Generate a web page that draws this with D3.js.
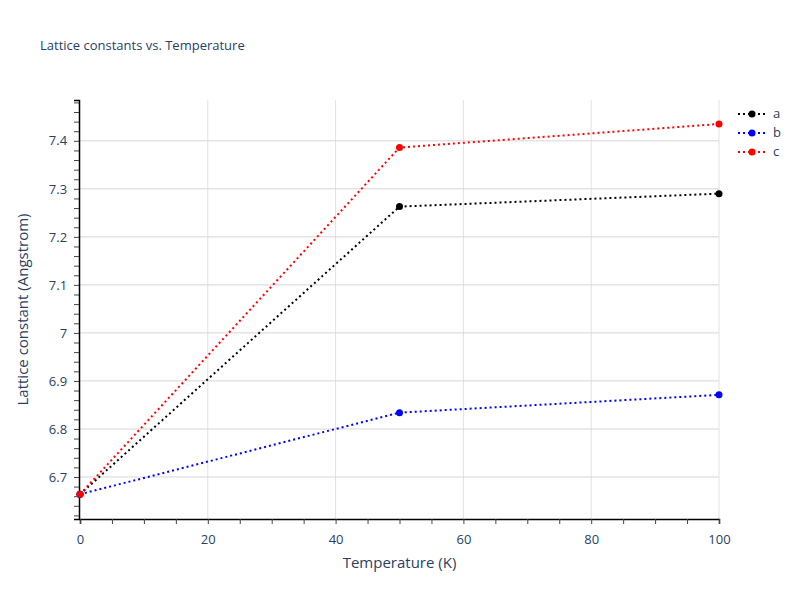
<!DOCTYPE html>
<html><head><meta charset="utf-8">
<script src="https://cdn.jsdelivr.net/npm/d3@7"></script>
<style>body{margin:0;background:#fff}text{font-family:"Open Sans",sans-serif}</style>
</head><body><svg id="c" width="800" height="600"></svg>
<script>
const temps=[0,50,100];
const seriesNames=["a","b","c"];
const aVals=[6.664,7.263,7.290];
const bVals=[6.664,6.834,6.871];
const cVals=[6.664,7.386,7.435];
const colors=["#000000","#0000ff","#ff0000"];
const xTicks=[0,20,40,60,80,100];
const yTicks=[6.7,6.8,6.9,7.0,7.1,7.2,7.3,7.4];
const yTickLabels=["6.7","6.8","6.9","7","7.1","7.2","7.3","7.4"];

const svg=d3.select("#c");
const L=80,R=719,T=100,B=519;
const x=d3.scaleLinear().domain([0,100]).range([L,R]);
const y=d3.scaleLinear().domain([6.6125,7.485]).range([B,T]);
const g=svg.append("g");
g.selectAll(".vg").data(xTicks.slice(1)).enter().append("line")
 .attr("x1",d=>x(d)).attr("x2",d=>x(d)).attr("y1",T).attr("y2",B).attr("stroke","#e2e2e2");
g.selectAll(".hg").data(yTicks).enter().append("line")
 .attr("x1",L).attr("x2",R).attr("y1",d=>y(d)).attr("y2",d=>y(d)).attr("stroke","#d6d6d6");
const xa=svg.append("g").attr("transform",`translate(0,${B})`)
 .call(d3.axisBottom(x).tickValues(d3.range(0,101,5)).tickSize(5).tickFormat(d=>xTicks.includes(d)?d:""));
const ya=svg.append("g").attr("transform",`translate(${L-1},0)`)
 .call(d3.axisLeft(y).tickValues(d3.range(6.62,7.481,0.02)).tickSize(5)
 .tickFormat(d=>{const i=yTicks.findIndex(v=>Math.abs(v-d)<1e-6);return i>=0?yTickLabels[i]:"";}));
[xa,ya].forEach(a=>{a.selectAll("text").attr("fill","#2a3f5f").style("font-size","13px").style("font-family","'Open Sans',sans-serif");
 a.select(".domain").attr("stroke","#000").attr("stroke-width",1.5);a.selectAll(".tick line").attr("stroke","#444");});
xa.selectAll("text").attr("dy","1.3em");
ya.selectAll("text").attr("dx","-0.3em");

const data=[aVals,bVals,cVals];
const line=d3.line().x((d,i)=>x(temps[i])).y(d=>y(d));
data.forEach((vals,k)=>{
 svg.append("path").attr("d",line(vals)).attr("fill","none").attr("stroke",colors[k]).attr("stroke-width",2).attr("stroke-dasharray","2,3");
 svg.selectAll(null).data(vals).enter().append("circle").attr("cx",(d,i)=>x(temps[i])).attr("cy",d=>y(d)).attr("r",3.5).attr("fill",colors[k]);
});
seriesNames.forEach((n,k)=>{
 const ly=114+k*19;
 svg.append("line").attr("x1",738).attr("x2",766).attr("y1",ly).attr("y2",ly).attr("stroke",colors[k]).attr("stroke-width",2).attr("stroke-dasharray","2,3");
 svg.append("circle").attr("cx",752).attr("cy",ly).attr("r",3.5).attr("fill",colors[k]);
 svg.append("text").attr("x",773).attr("y",ly+4).text(n).attr("fill","#2a3f5f").style("font-size","13px");
});
svg.append("text").attr("x",40).attr("y",50).text("Lattice constants vs. Temperature").attr("fill","#2a3f5f").style("font-size","13px");
svg.append("text").attr("x",(L+R)/2).attr("y",568).attr("text-anchor","middle").text("Temperature (K)").attr("fill","#2a3f5f").style("font-size","15px");
svg.append("text").attr("transform",`translate(28,${(T+B)/2}) rotate(-90)`).attr("text-anchor","middle").text("Lattice constant (Angstrom)").attr("fill","#2a3f5f").style("font-size","15px");
</script></body></html>
